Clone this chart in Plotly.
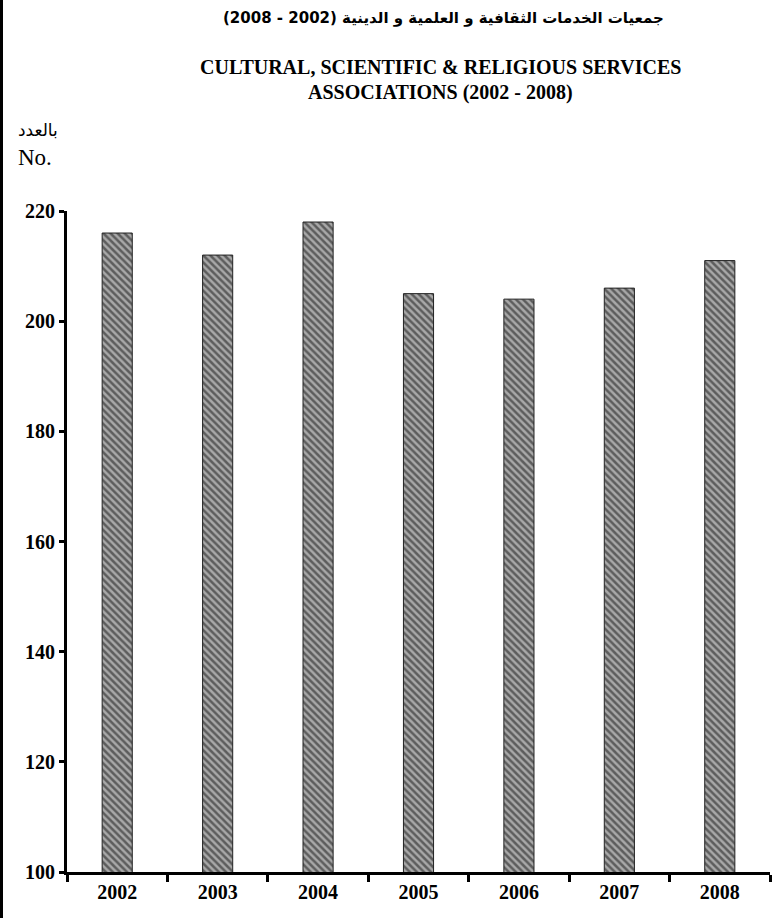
import plotly.graph_objects as go

years = ["2002", "2003", "2004", "2005", "2006", "2007", "2008"]
counts = [216, 212, 218, 205, 204, 206, 211]
y_ticks = [100, 120, 140, 160, 180, 200, 220]

W, H = 780, 918
L, R, T, B = 67, 10, 211, 46

fig = go.Figure(go.Bar(
    x=years, y=counts, width=0.3,
    marker=dict(color="#9a9a9a", line=dict(color="#222222", width=1),
                pattern=dict(shape="\\", fgcolor="#111111", bgcolor="#a8a8a8",
                             size=5, solidity=0.5)),
))

fig.update_layout(
    width=W, height=H, margin=dict(l=L, r=R, t=T, b=B),
    paper_bgcolor="white", plot_bgcolor="white", showlegend=False,
    font=dict(family="Liberation Serif, Times New Roman, serif", color="black"),
    xaxis=dict(type="category", tickson="boundaries", showline=True, linewidth=3,
               linecolor="black", ticks="outside", ticklen=7, tickwidth=3,
               tickcolor="black", showgrid=False,
               tickfont=dict(size=20, family="Liberation Serif", weight="bold"),
               range=[-0.5, 6.5]),
    yaxis=dict(range=[100, 220], tickvals=y_ticks, showline=True, linewidth=3,
               linecolor="black", ticks="outside", ticklen=5, tickwidth=3,
               tickcolor="black", showgrid=False, zeroline=False,
               tickfont=dict(size=20, family="Liberation Serif", weight="bold")),
)

def ytop(px):
    return 1 + (T - px) / (H - T - B)

def xpos(px):
    return (px - L) / (W - L - R)

fig.add_annotation(text="<b>جمعيات الخدمات الثقافية و العلمية و الدينية (2002 - 2008)</b>",
                   xref="paper", yref="paper", x=xpos(443), y=ytop(18), showarrow=False,
                   font=dict(size=15, family="DejaVu Sans"), xanchor="center", yanchor="middle")
fig.add_annotation(text="<b>CULTURAL, SCIENTIFIC & RELIGIOUS SERVICES</b>",
                   xref="paper", yref="paper", x=xpos(440), y=ytop(67), showarrow=False,
                   font=dict(size=20, family="Liberation Serif"), xanchor="center", yanchor="middle")
fig.add_annotation(text="<b>ASSOCIATIONS (2002 - 2008)</b>",
                   xref="paper", yref="paper", x=xpos(440), y=ytop(92), showarrow=False,
                   font=dict(size=20, family="Liberation Serif"), xanchor="center", yanchor="middle")
fig.add_annotation(text="بالعدد", xref="paper", yref="paper", x=xpos(38), y=ytop(130),
                   showarrow=False, font=dict(size=17, family="DejaVu Sans"),
                   xanchor="center", yanchor="middle")
fig.add_annotation(text="No.", xref="paper", yref="paper", x=xpos(35), y=ytop(157),
                   showarrow=False, font=dict(size=23, family="Liberation Serif"),
                   xanchor="center", yanchor="middle")

fig.add_shape(type="rect", xref="paper", yref="paper", x0=xpos(0), x1=xpos(3),
              y0=ytop(0), y1=ytop(H), line=dict(width=0), fillcolor="black")

fig.write_html("out.html", config={"displayModeBar": False, "staticPlot": True},
               post_script=("document.body.style.margin='0';"
                            "document.body.style.overflow='hidden';"
                            "document.documentElement.style.overflow='hidden';"))
